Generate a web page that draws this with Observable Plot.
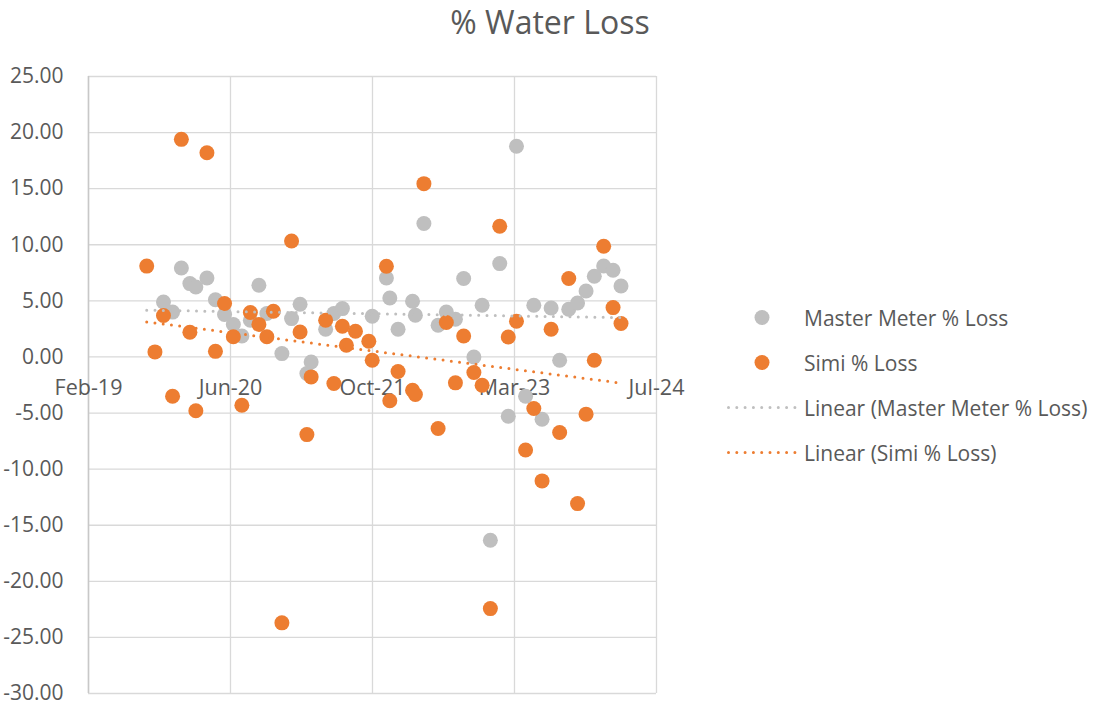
<!DOCTYPE html>
<html>
<head>
<meta charset="utf-8">
<script src="https://cdn.jsdelivr.net/npm/d3@7"></script>
<script src="https://cdn.jsdelivr.net/npm/@observablehq/plot@0.6"></script>
<style>
  body { margin: 0; background: #fff; font-family: "Open Sans", sans-serif; color: #595959; }
  #wrap { position: relative; width: 1094px; height: 707px; overflow: hidden; }
  #title { position: absolute; left: 0; top: 2px; width: 1100px; text-align: center; font-size: 32px; line-height: 40px; }
  #chart { position: absolute; left: 0; top: 60px; }
  #legend { position: absolute; left: 727px; top: 295px; }
  .row { display: flex; align-items: center; height: 45px; }
  .sw { width: 77px; height: 45px; flex: none; }
  .lab { font-size: 21px; white-space: nowrap; }
</style>
</head>
<body>
<div id="wrap">
  <div id="title">% Water Loss</div>
  <div id="chart"></div>
  <div id="legend"></div>
</div>
<script>
// ---- data ----
const dates = [
  "2019-08-28","2019-09-26","2019-10-26","2019-11-27","2019-12-28","2020-01-27","2020-02-17","2020-03-27",
  "2020-04-26","2020-05-28","2020-06-28","2020-07-28","2020-08-27","2020-09-26","2020-10-24","2020-11-16",
  "2020-12-16","2021-01-19","2021-02-18","2021-03-14","2021-03-29","2021-05-19","2021-06-17","2021-07-17",
  "2021-07-31","2021-09-01","2021-10-18","2021-10-30","2021-12-19","2021-12-31","2022-01-29","2022-03-21",
  "2022-03-31","2022-04-30","2022-06-19","2022-07-18","2022-08-19","2022-09-17","2022-10-23","2022-11-21",
  "2022-12-20","2023-01-22","2023-02-21","2023-03-22","2023-04-23","2023-05-22","2023-06-20","2023-07-22",
  "2023-08-21","2023-09-22","2023-10-23","2023-11-22","2023-12-21","2024-01-23","2024-02-25","2024-03-24"
];
const masterLoss = [
  null, null, 4.90, 4.00, 7.93, 6.54, 6.24, 7.04,
  5.10, 3.78, 2.89, 1.87, 3.27, 6.39, 3.87, null,
  0.30, 3.42, 4.70, -1.48, -0.45, 2.47, 3.87, 4.31,
  null, null, null, 3.63, 7.04, 5.26, 2.47, 4.96,
  3.72, 11.90, 2.83, 4.00, 3.36, 6.99, 0.00, 4.61,
  -16.34, 8.32, -5.28, 18.78, -3.50, 4.61, -5.55, 4.37,
  -0.30, 4.25, 4.81, 5.88, 7.19, 8.11, 7.73, 6.33
];
const simiLoss = [
  8.10, 0.45, 3.70, -3.50, 19.40, 2.20, -4.80, 18.20,
  0.50, 4.76, 1.80, -4.30, 3.96, 2.90, 1.80, 4.07,
  -23.70, 10.34, 2.23, -6.92, -1.78, 3.27, -2.37, 2.74,
  1.04, 2.29, 1.40, -0.30, 8.08, -3.90, -1.30, -2.97,
  -3.35, 15.45, -6.38, 3.07, -2.31, 1.87, -1.39, -2.52,
  -22.43, 11.65, 1.78, 3.18, -8.30, -4.60, -11.05, 2.47,
  -6.74, 6.99, -13.07, -5.10, -0.30, 9.87, 4.40, 2.98
];
const seriesNames = ["Master Meter % Loss", "Simi % Loss"];
const trendNames = ["Linear (Master Meter % Loss)", "Linear (Simi % Loss)"];
const seriesColors = ["#BFBFBF", "#ED7D31"];
const xTickDates = ["2019-02-04","2020-06-18","2021-10-31","2023-03-15","2024-07-27"];
const xTickLabels = ["Feb-19","Jun-20","Oct-21","Mar-23","Jul-24"];
const yTicks = [25, 20, 15, 10, 5, 0, -5, -10, -15, -20, -25, -30];

// ---- build table ----
const rows = dates.map((d, i) => ({date: new Date(d), master: masterLoss[i], simi: simiLoss[i]}));
const xTicks = xTickDates.map(d => new Date(d));

function trend(key) {
  const pts = rows.filter(r => r[key] != null);
  const mx = d3.mean(pts, p => +p.date), my = d3.mean(pts, p => p[key]);
  let sxy = 0, sxx = 0;
  for (const p of pts) { sxy += (+p.date - mx) * (p[key] - my); sxx += (+p.date - mx) ** 2; }
  const b = sxy / sxx, a = my - b * mx;
  const ext = d3.extent(rows, r => +r.date);
  return ext.map(t => ({date: new Date(t), v: a + b * t}));
}

const font = "Open Sans";
const chart = Plot.plot({
  width: 700, height: 647,
  marginLeft: 88, marginRight: 44, marginTop: 16, marginBottom: 14,
  x: {type: "utc", domain: [xTicks[0], xTicks[xTicks.length - 1]], axis: null},
  y: {domain: [-30, 25], axis: null},
  style: {fontFamily: font, fontSize: "21px", color: "#595959", background: "transparent", overflow: "visible"},
  marks: [
    Plot.gridY(yTicks, {stroke: "#d9d9d9", strokeOpacity: 1, strokeWidth: 1.3}),
    Plot.gridX(xTicks, {stroke: "#d9d9d9", strokeOpacity: 1, strokeWidth: 1.3}),
    Plot.ruleX([xTicks[0]], {stroke: "#c8c8c8", strokeWidth: 1.5}),
    Plot.axisY(yTicks, {anchor: "left", tickSize: 0, tickPadding: 25, tickFormat: d => d.toFixed(2), fill: "#595959", fontSize: 21}),
    Plot.text(xTicks, {x: d => d, y: () => 0, dy: 31, text: (d, i) => xTickLabels[i], fill: "#595959", fontSize: 21.5}),
    Plot.dot(rows.filter(r => r.master != null), {x: "date", y: "master", r: 7.5, fill: seriesColors[0]}),
    Plot.dot(rows, {x: "date", y: "simi", r: 7.5, fill: seriesColors[1]}),
    Plot.line(trend("master"), {x: "date", y: "v", stroke: seriesColors[0], strokeWidth: 3, strokeDasharray: "0,8.3", strokeLinecap: "round"}),
    Plot.line(trend("simi"), {x: "date", y: "v", stroke: seriesColors[1], strokeWidth: 3, strokeDasharray: "0,8.3", strokeLinecap: "round"})
  ]
});
document.getElementById("chart").appendChild(chart);

// ---- legend ----
const legend = document.getElementById("legend");
const items = [
  {name: seriesNames[0], color: seriesColors[0], kind: "dot"},
  {name: seriesNames[1], color: seriesColors[1], kind: "dot"},
  {name: trendNames[0], color: seriesColors[0], kind: "line"},
  {name: trendNames[1], color: seriesColors[1], kind: "line"}
];
for (const it of items) {
  const row = document.createElement("div");
  row.className = "row";
  const sw = it.kind === "dot"
    ? `<svg class="sw" width="77" height="45"><circle cx="35" cy="22.5" r="7.5" fill="${it.color}"/></svg>`
    : `<svg class="sw" width="77" height="45"><line x1="1.5" x2="70" y1="22.5" y2="22.5" stroke="${it.color}" stroke-width="3" stroke-dasharray="0,8.3" stroke-linecap="round"/></svg>`;
  row.innerHTML = sw + `<span class="lab">${it.name}</span>`;
  legend.appendChild(row);
}
</script>
</body>
</html>
